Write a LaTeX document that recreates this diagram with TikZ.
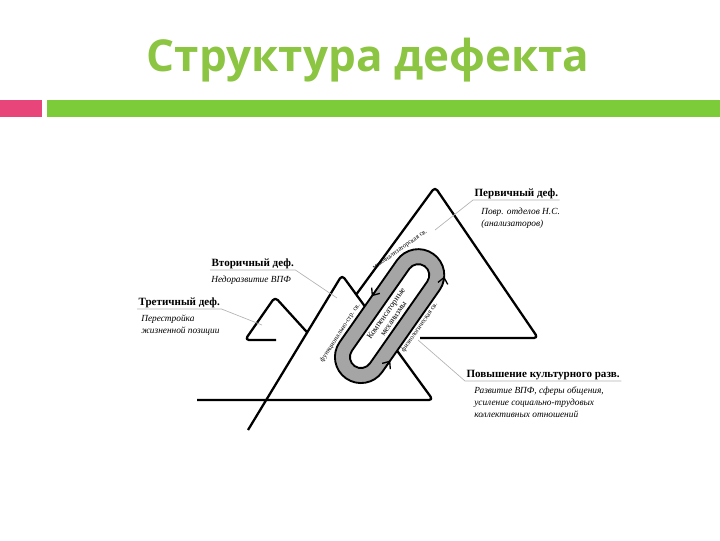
\documentclass[tikz,border=0pt]{standalone}
\usepackage{fontspec}
\setmainfont{Liberation Serif}
\newfontfamily\titlefont{Open Sans}
\usetikzlibrary{arrows.meta}

\definecolor{titlegreen}{RGB}{139,197,66}
\definecolor{bargreen}{RGB}{124,204,58}
\definecolor{barpink}{RGB}{232,70,122}
\definecolor{pillgray}{RGB}{165,165,165}

\tikzset{
  contour/.style={line width=1.7pt, line join=round, rounded corners=3pt},
  leader/.style={draw=gray!60, line width=0.5pt},
  head/.style={anchor=south west, inner sep=1pt, font=\fontsize{8.3}{10}\selectfont\bfseries},
  note/.style={anchor=north west, inner sep=0.75pt, align=left, font=\fontsize{7}{9}\selectfont\itshape},
  side/.style={inner sep=0.5pt, font=\fontsize{5}{6}\selectfont},
  flow/.style={line width=1pt, -{Straight Barb[length=4.5pt,width=7.5pt]}},
}

\begin{document}
\begin{tikzpicture}[x=0.75pt,y=0.75pt,yscale=-1,xscale=1]
\useasboundingbox (0,0) rectangle (720,540);

% Title and bars
\node[font=\titlefont\fontsize{33}{40}\selectfont\bfseries, text=titlegreen, inner sep=0pt] (title) at (368,60) {Структура дефекта};
\fill[barpink] (0,100) rectangle (42,117);
\fill[bargreen] (47,100) rectangle (720,117);

% Corner points
\coordinate (Ptop) at (435,187);
\coordinate (Pleft) at (350,303);
\coordinate (Pright) at (538,338);
\coordinate (Pbase) at (420,338);
\coordinate (Stop) at (342,275);
\coordinate (Sright) at (433,400);
\coordinate (Sbase) at (197,400);
\coordinate (Stail) at (248,430);
\coordinate (Ttop) at (275,297);
\coordinate (Tleft) at (245,340);
\coordinate (Tbase) at (276,340);

% Primary triangle
\draw[contour] (intersection of Ptop--Pleft and Stop--Sright) -- (Ptop) -- (Pright) -- (Pbase);
% Secondary triangle
\draw[contour] (Stail) -- (Stop) -- (Sright) -- (Sbase);
% Tertiary triangle
\draw[contour] (Tbase) -- (Tleft) -- (Ttop) -- (intersection of Ttop--305,330 and Stop--Stail);

% Compensation loop
\begin{scope}[shift={(389.6,316.1)}, rotate=-55]
  \fill[pillgray] (-50,-26) -- (50,-26) arc[start angle=-90, end angle=90, radius=26] -- (-50,26) arc[start angle=90, end angle=270, radius=26] -- cycle;
  \draw[line width=1.4pt, fill=white] (-50,-11) -- (50,-11) arc[start angle=-90, end angle=90, radius=11] -- (-50,11) arc[start angle=90, end angle=270, radius=11] -- cycle;
  \draw[line width=1.4pt] (-50,-26) -- (50,-26) arc[start angle=-90, end angle=90, radius=26] -- (-50,26) arc[start angle=90, end angle=270, radius=26] -- cycle;
  \draw[flow] (-44,26) -- (-36,26);
  \draw[flow] ({50+26*cos(75)},{26*sin(75)}) -- ({50+26*cos(58)},{26*sin(58)});
  \draw[flow] (14,-26) -- (6,-26);
  \node[align=center, inner sep=0pt, rotate=55, font=\fontsize{6.3}{6.8}\selectfont] (comp) at (0,0) {Компенсаторные\\механизмы};
  \node[side, rotate=57] (sideL) at (-42,-31) {функционально-стр. св.};
  \node[side, rotate=55] (sideR) at (8,31) {физиологическая св.};
  \node[side, rotate=35] (sideT) at (60,-29) {межанализаторская св.};
\end{scope}

% Labels
\node[head] (prim) at (473,200) {Первичный деф.};
\node[note] (primtxt) at (480,207) {Повр. отделов Н.С.\\(анализаторов)};
\coordinate (primpt) at (435,230);
\draw[leader] (primpt) -- (prim.south west) -- (prim.south east);

\node[head] (sec) at (210,270) {Вторичный деф.};
\node[note] (sectxt) at (210,275) {Недоразвитие ВПФ};
\coordinate (secpt) at (337,298);
\draw[leader] (sec.south west) -- (sec.south east) -- (secpt);

\node[head] (ter) at (137,309) {Третичный деф.};
\node[note] (tertxt) at (140,314) {Перестройка\\жизненной позиции};
\coordinate (terpt) at (262,325);
\draw[leader] (ter.south west) -- (ter.south east) -- (terpt);

\node[head] (cult) at (465,381) {Повышение культурного разв.};
\node[note] (culttxt) at (473,386) {Развитие ВПФ, сферы общения,\\усиление социально-трудовых\\коллективных отношений};
\coordinate (cultpt) at (418,340);
\draw[leader] (cultpt) -- (cult.south west) -- (cult.south east);

\end{tikzpicture}
\end{document}
